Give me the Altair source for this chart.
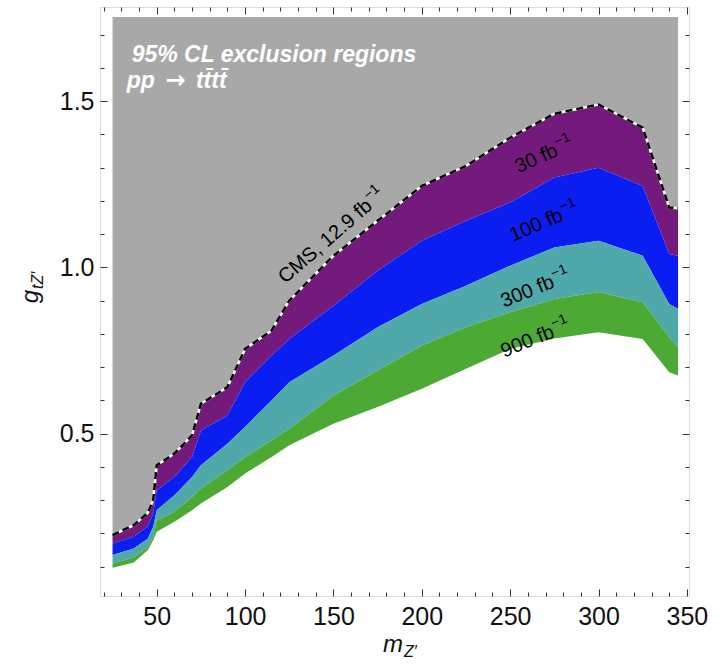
import altair as alt
import pandas as pd

# ---- data ----
M_Z = [25, 37, 45, 48, 50, 60, 70, 75, 90, 100, 115, 125, 150, 175, 200, 225, 250, 275, 300, 325, 340, 345]
CMS = [0.195, 0.225, 0.262, 0.30, 0.405, 0.44, 0.495, 0.59, 0.64, 0.755, 0.81, 0.90, 1.035, 1.14, 1.245, 1.305, 1.39, 1.462, 1.49, 1.42, 1.18, 1.178]
L30 = [0.17, 0.19, 0.222, 0.26, 0.33, 0.37, 0.43, 0.51, 0.555, 0.655, 0.735, 0.785, 0.885, 0.99, 1.08, 1.14, 1.195, 1.27, 1.30, 1.245, 1.04, 1.035]
L100 = [0.135, 0.155, 0.185, 0.22, 0.27, 0.315, 0.37, 0.405, 0.47, 0.52, 0.60, 0.655, 0.735, 0.82, 0.89, 0.945, 1.005, 1.06, 1.08, 1.035, 0.89, 0.875]
L300 = [0.11, 0.128, 0.16, 0.19, 0.24, 0.265, 0.31, 0.335, 0.39, 0.43, 0.48, 0.515, 0.615, 0.69, 0.765, 0.82, 0.865, 0.905, 0.926, 0.895, 0.79, 0.76]
L900 = [0.097, 0.113, 0.15, 0.18, 0.205, 0.235, 0.27, 0.29, 0.34, 0.38, 0.43, 0.465, 0.53, 0.58, 0.635, 0.695, 0.755, 0.786, 0.805, 0.785, 0.685, 0.675]
G_TOP = 1.753

BANDS = ["excluded", "30", "100", "300", "900"]
BAND_COLORS = ["#a8a8a8", "#751a7d", "#0a1ef2", "#4fa8aa", "#4caa34"]

X_TICKS = list(range(20, 351, 10))
Y_TICKS = [0.1, 0.2, 0.3, 0.4, 0.5, 0.6, 0.7, 0.8, 0.9, 1.0, 1.1, 1.2, 1.3, 1.4, 1.5, 1.6, 1.7]

# curve labels: main text ends at (x, y), superscript starts there
LABEL_MAIN = ["CMS, 12.9 fb", "30 fb", "100 fb", "300 fb", "900 fb"]
LABEL_SUP = ["−1", "−1", "−1", "−1", "−1"]
LABEL_X = [170.4, 276.4, 279.3, 274.4, 274.4]
LABEL_Y = [1.193, 1.354, 1.159, 0.958, 0.808]
LABEL_ANGLE = [319, 336, 337, 338, 338]

TITLE_LINE1 = "95% CL exclusion regions"
TITLE_PARTS = ["pp", "→", "tt̄tt̄"]
TITLE_X = [35.8, 33.0, 55.0, 72.2]
TITLE_Y = [1.617, 1.538]

# ---- tables ----
lows = [CMS, L30, L100, L300, L900]
highs = [[G_TOP] * len(M_Z), CMS, L30, L100, L300]
rows = []
for b, lo, hi in zip(BANDS, lows, highs):
    for m, a, c in zip(M_Z, lo, hi):
        rows.append({"band": b, "m": m, "lo": a, "hi": c})
bands_df = pd.DataFrame(rows)
cms_df = pd.DataFrame({"m": M_Z, "g": CMS})

FONT = "Liberation Sans"
xs = alt.Scale(domain=[17.9, 351.2], nice=False, zero=False)
ys = alt.Scale(domain=[0.012, 1.783], nice=False, zero=False)

X_MAJOR = "datum.value % 50 === 0"
Y_MAJOR = "round(datum.value * 10) % 5 === 0"


def x_axis(orient, labels):
    return alt.Axis(
        orient=orient, values=X_TICKS, title=None, grid=False, domain=False,
        labels=labels, labelExpr=f"{X_MAJOR} ? datum.label : ''",
        labelFont=FONT, labelFontSize=25, labelColor="#111", labelPadding=15,
        labelOverlap=False, labelFlush=False,
        tickSize={"expr": f"{X_MAJOR} ? -7 : -4"}, tickColor="#333", tickWidth=1,
    )


def y_axis(orient, labels):
    return alt.Axis(
        orient=orient, values=Y_TICKS, title=None, grid=False, domain=False,
        labels=labels, labelExpr=f"{Y_MAJOR} ? format(datum.value, '.1f') : ''",
        labelFont=FONT, labelFontSize=25, labelColor="#111", labelPadding=13,
        labelOverlap=False, labelFlush=False,
        tickSize={"expr": f"{Y_MAJOR} ? -7 : -4"}, tickColor="#333", tickWidth=1,
    )


def pos(df):
    return dict(x=alt.X("m:Q", scale=xs, axis=None), y=alt.Y("g:Q", scale=ys, axis=None), text="t:N")


areas = alt.Chart(bands_df).mark_area(interpolate="linear").encode(
    x=alt.X("m:Q", scale=xs, axis=x_axis("bottom", True)),
    y=alt.Y("lo:Q", scale=ys, axis=y_axis("left", True)),
    y2="hi:Q",
    color=alt.Color("band:N", scale=alt.Scale(domain=BANDS, range=BAND_COLORS), legend=None),
)

white_line = alt.Chart(cms_df).mark_line(color="white", strokeWidth=2.5).encode(
    x=alt.X("m:Q", scale=xs, axis=x_axis("top", False)),
    y=alt.Y("g:Q", scale=ys, axis=y_axis("right", False)),
)

dash_line = alt.Chart(cms_df).mark_line(color="black", strokeWidth=2.5, strokeDash=[7, 4]).encode(
    x=alt.X("m:Q", scale=xs, axis=None),
    y=alt.Y("g:Q", scale=ys, axis=None),
)

layers = [areas, white_line, dash_line]

for main, sup, lx, ly, ang in zip(LABEL_MAIN, LABEL_SUP, LABEL_X, LABEL_Y, LABEL_ANGLE):
    d_main = pd.DataFrame({"t": [main], "m": [lx], "g": [ly]})
    d_sup = pd.DataFrame({"t": [sup], "m": [lx], "g": [ly]})
    layers.append(alt.Chart(d_main).mark_text(font=FONT, fontSize=20, color="black", align="right",
                                              baseline="middle", angle=ang).encode(**pos(d_main)))
    layers.append(alt.Chart(d_sup).mark_text(font=FONT, fontSize=14, color="black", align="left",
                                             baseline="middle", angle=ang, dx=1, dy=-7).encode(**pos(d_sup)))

t1 = pd.DataFrame({"t": [TITLE_LINE1], "m": [TITLE_X[0]], "g": [TITLE_Y[0]]})
layers.append(alt.Chart(t1).mark_text(font=FONT, fontSize=23, fontWeight="bold", fontStyle="italic",
                                      color="white", align="left", baseline="alphabetic").encode(**pos(t1)))
for i, part in enumerate(TITLE_PARTS):
    d = pd.DataFrame({"t": [part], "m": [TITLE_X[i + 1]], "g": [TITLE_Y[1]]})
    if part == "→":
        mk = alt.Chart(d).mark_text(font="DejaVu Sans", fontSize=24, fontWeight="bold", color="white",
                                    align="left", baseline="alphabetic")
    else:
        mk = alt.Chart(d).mark_text(font=FONT, fontSize=23, fontWeight="bold", fontStyle="italic",
                                    color="white", align="left", baseline="alphabetic")
    layers.append(mk.encode(**pos(d)))

x_title_m = alt.Chart(pd.DataFrame({"t": ["m"]})).mark_text(font=FONT, fontSize=24, fontStyle="italic", align="right",
                                       baseline="alphabetic", color="#111").encode(
    x=alt.value(303), y=alt.value(645), text="t:N")
x_title_s = alt.Chart(pd.DataFrame({"t": ["Z′"]})).mark_text(font=FONT, fontSize=16, fontStyle="italic", align="left",
                                       baseline="alphabetic", color="#111").encode(
    x=alt.value(304), y=alt.value(650), text="t:N")
y_title_g = alt.Chart(pd.DataFrame({"t": ["g"]})).mark_text(font=FONT, fontSize=24, fontStyle="italic", align="right",
                                       baseline="alphabetic", angle=270, color="#111").encode(
    x=alt.value(-62), y=alt.value(283), text="t:N")
y_title_s = alt.Chart(pd.DataFrame({"t": ["tZ′"]})).mark_text(font=FONT, fontSize=16, fontStyle="italic", align="left",
                                       baseline="alphabetic", angle=270, color="#111").encode(
    x=alt.value(-57), y=alt.value(282), text="t:N")
layers += [x_title_m, x_title_s, y_title_g, y_title_s]

chart = alt.layer(*layers).resolve_axis(x="independent", y="independent").properties(
    width=589, height=589,
    autosize=alt.AutoSizeParams(type="none"),
    padding={"left": 100, "top": 7, "right": 36, "bottom": 73},
).configure_view(stroke="#555", strokeWidth=1.2).configure(background="white")

chart.save("out.html", embed_options={"renderer": "svg", "actions": False})
